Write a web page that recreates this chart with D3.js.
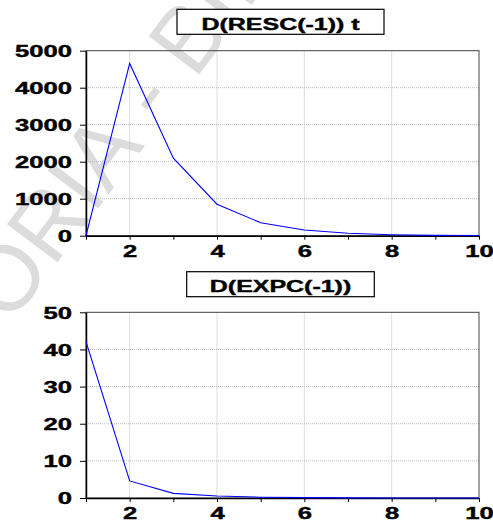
<!DOCTYPE html>
<html>
<head>
<meta charset="utf-8">
<script src="https://cdn.jsdelivr.net/npm/d3@7"></script>
<style>
  body { margin: 0; background: #fff; }
  text { font-family: "Liberation Sans", Arial, sans-serif; }
</style>
</head>
<body>
<script>
// periods on the x axis
let periods = [1, 2, 3, 4, 5, 6, 7, 8, 9, 10];
// response of D(RESC(-1)) t
let rescValues = [0, 4655, 2095, 850, 350, 155, 65, 25, 10, 4];
// response of D(EXPC(-1))
let expcValues = [42.1, 4.6, 1.25, 0.55, 0.22, 0.09, 0.035, 0.014, 0.006, 0.002];
let xTicks = [2, 4, 6, 8, 10];
let rescTicks = [0, 1000, 2000, 3000, 4000, 5000];
let expcTicks = [0, 10, 20, 30, 40, 50];

let width = 493;
let height = 523;
let stretch = 1.6; // the fonts in the original are wide

let svg = d3.select("body").append("svg")
  .attr("width", width)
  .attr("height", height);

// faint watermark behind the charts
let wm = svg.append("g")
  .attr("transform", "translate(150,98) rotate(-53)")
  .style("fill", "#dcdcdc")
  .style("font-size", "92px");
wm.append("text").attr("x", -41).attr("y", 25).attr("text-anchor", "end").text("TESORIA");
wm.append("text").attr("x", 0).attr("y", 25).attr("text-anchor", "middle").text("-");
wm.append("text").attr("x", 41).attr("y", 25).attr("text-anchor", "start").text("BIBLIOTECA");

let x = d3.scaleLinear().domain([1, 10]).range([86, 479]);

function panel(title, values, ticks, top, bottom, box) {
  let y = d3.scaleLinear().domain([0, d3.max(ticks)]).range([bottom, top]);
  let g = svg.append("g");

  // grid
  g.selectAll(".hgrid")
    .data(ticks.slice(1, -1))
    .enter().append("line")
      .attr("x1", x(1)).attr("x2", x(10))
      .attr("y1", d => y(d)).attr("y2", d => y(d))
      .style("stroke", "#bbb").style("stroke-dasharray", "1,1");
  g.selectAll(".vgrid")
    .data(xTicks.slice(0, -1))
    .enter().append("line")
      .attr("x1", d => x(d)).attr("x2", d => x(d))
      .attr("y1", top).attr("y2", bottom)
      .style("stroke", "#bbb").style("stroke-dasharray", "1,1");

  // frame
  g.append("rect")
    .attr("x", x(1)).attr("y", top)
    .attr("width", x(10) - x(1)).attr("height", bottom - top)
    .style("fill", "none").style("stroke", "#444");

  // y axis
  let ya = g.append("g")
    .attr("transform", "translate(" + x(1) + ",0)")
    .call(d3.axisLeft(y).tickValues(ticks).tickSize(6).tickSizeOuter(0).tickFormat(d3.format("d")));
  ya.select(".domain").style("stroke-width", 1.5);
  ya.selectAll("text")
    .attr("x", 0).attr("dy", null)
    .attr("transform", "translate(-14,5.8) scale(" + stretch + ",1)")
    .style("font-size", "16px").style("font-weight", "bold").style("fill", "#000")
    .style("stroke", "#000").style("stroke-width", 0.4);

  // x axis: ticks at every period, labels on the even ones
  let xa = g.append("g")
    .attr("transform", "translate(0," + bottom + ")")
    .call(d3.axisBottom(x).tickValues(periods).tickSize(4).tickSizeOuter(0)
      .tickFormat(d => xTicks.includes(d) ? d : ""));
  xa.select(".domain").style("stroke-width", 1.5);
  xa.selectAll("text")
    .attr("y", 0).attr("dy", null)
    .attr("transform", "translate(0,20.8) scale(" + stretch + ",1)")
    .style("font-size", "16px").style("font-weight", "bold").style("fill", "#000")
    .style("stroke", "#000").style("stroke-width", 0.4);

  // series
  let line = d3.line()
    .x((d, i) => x(periods[i]))
    .y(d => y(d));
  g.append("path")
    .datum(values)
    .attr("d", line)
    .style("fill", "none")
    .style("stroke", "#0000ff")
    .style("stroke-width", 1.1);

  // title box
  g.append("rect")
    .attr("x", box[0]).attr("y", box[1])
    .attr("width", box[2] - box[0]).attr("height", box[3] - box[1])
    .style("fill", "#fff").style("stroke", "#000").style("stroke-width", 1.2);
  g.append("text")
    .attr("text-anchor", "middle")
    .attr("transform", "translate(" + ((box[0] + box[2]) / 2) + "," + (box[3] - 4.5) + ") scale(1.56,1)")
    .style("font-size", "16px").style("font-weight", "bold")
    .style("stroke", "#000").style("stroke-width", 0.4)
    .text(title);
}

panel("D(RESC(-1)) t", rescValues, rescTicks, 50.7, 235.7, [177, 9.3, 384, 34.3]);
panel("D(EXPC(-1))", expcValues, expcTicks, 312.3, 498, [186.7, 271.7, 374.3, 296.7]);
</script>
</body>
</html>
